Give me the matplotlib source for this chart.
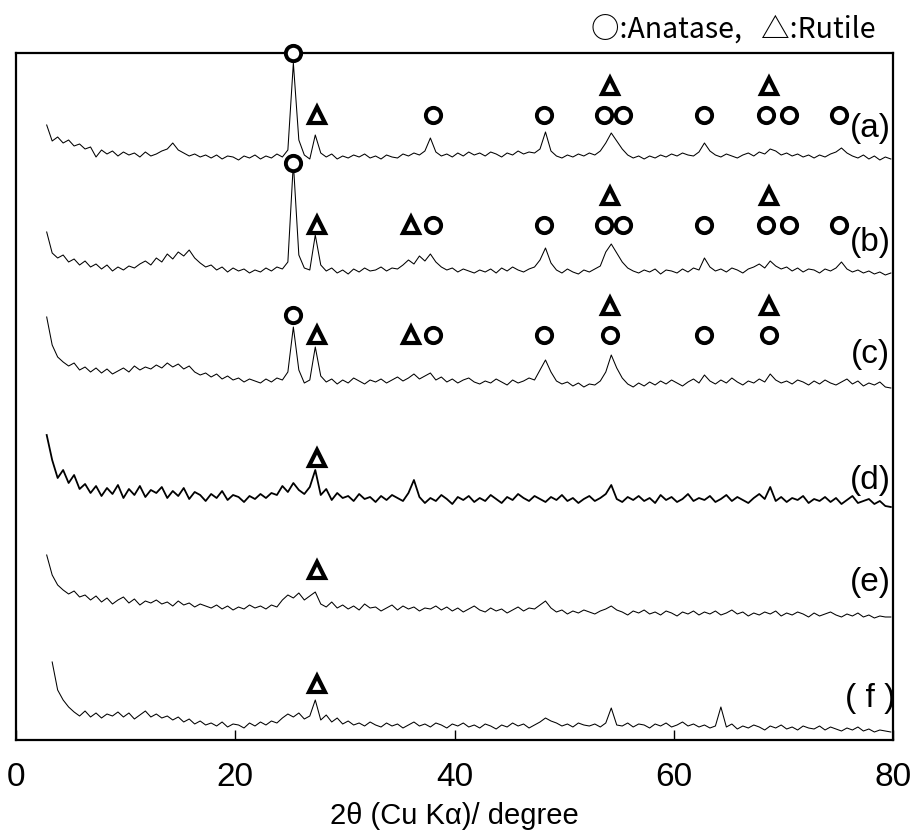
import numpy as np
import matplotlib
matplotlib.use('Agg')
import matplotlib.pyplot as plt

plt.rcParams['font.family'] = ['Liberation Sans', 'Noto Sans CJK JP', 'DejaVu Sans']

# 2theta sampling (degree)
two_theta = np.arange(2.8, 80.0, 0.5)

# intensities (arbitrary units, above each trace's own base)
int_a = [40, 24, 28, 22, 25, 19, 21, 16, 18, 8,
         15, 11, 14, 9, 13, 10, 12, 8, 13, 9,
         11, 14, 16, 22, 15, 12, 9, 11, 8, 10,
         7, 10, 6, 9, 8, 5, 9, 7, 10, 6,
         9, 7, 11, 8, 15, 102, 25, 10, 6, 30,
         12, 8, 11, 6, 9, 7, 10, 8, 11, 7,
         9, 6, 10, 8, 7, 11, 9, 12, 10, 14,
         27, 13, 9, 11, 8, 12, 9, 13, 10, 12,
         9, 13, 11, 8, 12, 10, 14, 11, 13, 12,
         16, 33, 14, 9, 7, 10, 8, 11, 9, 12,
         10, 14, 22, 32, 24, 16, 10, 7, 9, 6,
         9, 7, 10, 8, 11, 9, 12, 10, 9, 13,
         22, 14, 10, 8, 11, 9, 7, 10, 12, 9,
         13, 11, 16, 14, 10, 12, 9, 11, 8, 10,
         7, 10, 8, 11, 13, 17, 12, 9, 7, 10,
         6, 9, 5, 8, 6]
int_b = [48, 27, 22, 25, 18, 21, 15, 19, 13, 16,
         11, 15, 9, 13, 10, 14, 12, 16, 19, 15,
         22, 18, 26, 21, 28, 24, 30, 22, 17, 13,
         15, 10, 13, 8, 12, 9, 11, 7, 10, 8,
         12, 9, 13, 11, 18, 117, 25, 12, 10, 45,
         15, 9, 12, 7, 10, 6, 11, 8, 12, 9,
         10, 13, 9, 12, 11, 15, 20, 16, 24, 19,
         26, 18, 13, 10, 12, 8, 11, 9, 7, 10,
         8, 11, 7, 12, 9, 13, 10, 8, 11, 13,
         20, 32, 17, 10, 7, 11, 8, 6, 10, 8,
         11, 14, 28, 36, 27, 18, 12, 9, 7, 10,
         8, 11, 6, 10, 9, 7, 11, 8, 12, 10,
         22, 13, 9, 11, 8, 12, 10, 7, 11, 13,
         16, 12, 19, 14, 11, 13, 9, 12, 8, 11,
         10, 7, 11, 9, 12, 18, 11, 8, 10, 7,
         9, 6, 8, 5, 7]
int_c = [75, 47, 35, 30, 26, 29, 22, 25, 20, 24,
         19, 23, 18, 21, 24, 20, 26, 22, 25, 23,
         27, 24, 29, 25, 28, 23, 26, 20, 17, 19,
         15, 18, 13, 16, 12, 14, 10, 13, 11, 9,
         13, 10, 14, 12, 20, 65, 22, 9, 12, 45,
         16, 10, 13, 8, 12, 9, 14, 11, 8, 12,
         10, 13, 9, 12, 15, 11, 14, 18, 13, 16,
         19, 12, 15, 10, 13, 9, 12, 14, 10, 8,
         11, 9, 13, 10, 7, 12, 9, 11, 14, 12,
         22, 32, 20, 11, 8, 10, 6, 9, 5, 8,
         7, 11, 20, 37, 24, 14, 8, 5, 9, 6,
         10, 7, 11, 8, 12, 9, 6, 10, 13, 9,
         17, 11, 8, 12, 9, 14, 10, 7, 11, 9,
         13, 10, 18, 12, 9, 11, 8, 12, 10, 7,
         11, 8, 12, 9, 7, 10, 13, 8, 11, 6,
         9, 7, 10, 5, 4]
int_d = [75, 50, 32, 40, 27, 35, 21, 26, 17, 24,
         14, 22, 16, 25, 12, 21, 15, 24, 13, 20,
         17, 23, 12, 19, 14, 22, 11, 18, 15, 9,
         16, 12, 19, 10, 15, 13, 8, 14, 11, 16,
         12, 17, 15, 24, 18, 27, 20, 16, 23, 40,
         15, 21, 10, 17, 12, 14, 9, 16, 11, 13,
         8, 14, 10, 15, 12, 9, 17, 30, 13, 7,
         12, 9, 15, 11, 6, 13, 10, 14, 8, 12,
         9, 15, 11, 7, 13, 10, 16, 12, 9, 14,
         11, 8, 13, 10, 15, 9, 12, 7, 11, 14,
         9, 12, 16, 25, 11, 8, 13, 10, 14, 9,
         12, 7, 15, 10, 13, 8, 11, 16, 9, 12,
         10, 14, 8, 11, 15, 9, 13, 10, 7, 12,
         16, 11, 23, 9, 13, 8, 12, 10, 14, 7,
         11, 9, 13, 8, 12, 6, 10, 14, 7, 9,
         11, 6, 9, 4, 3]
int_e = [67, 47, 37, 32, 28, 31, 25, 27, 22, 26,
         20, 24, 18, 22, 25, 19, 23, 17, 21, 19,
         22, 18, 20, 16, 21, 17, 19, 15, 18, 16,
         14, 17, 13, 16, 12, 15, 13, 17, 14, 16,
         13, 17, 15, 22, 27, 24, 29, 22, 26, 30,
         18, 15, 20, 14, 17, 13, 16, 12, 18, 14,
         15, 11, 14, 17, 12, 16, 13, 15, 11, 14,
         13, 16, 12, 15, 11, 14, 10, 13, 16, 12,
         10, 14, 11, 13, 9, 12, 15, 11, 14, 13,
         17, 21, 14, 10, 12, 8, 11, 9, 12, 10,
         8, 11, 13, 16, 12, 10, 7, 11, 9, 12,
         8, 10, 7, 11, 9, 6, 10, 8, 11, 7,
         10, 8, 11, 7, 9, 12, 8, 10, 6, 9,
         7, 10, 8, 11, 6, 9, 7, 10, 8, 5,
         9, 6, 8, 10, 7, 5, 8, 6, 9, 5,
         7, 4, 6, 5, 5]
int_f = [np.nan, 73, 45, 35, 28, 23, 19, 24, 18, 22,
         17, 21, 19, 23, 18, 22, 16, 20, 24, 18,
         21, 17, 19, 15, 18, 13, 16, 11, 14, 10,
         12, 9, 13, 8, 11, 10, 7, 12, 9, 13,
         10, 14, 12, 17, 21, 18, 22, 16, 19, 35,
         15, 20, 13, 17, 11, 14, 10, 12, 9, 13,
         10, 8, 12, 9, 11, 7, 10, 13, 9, 11,
         8, 12, 10, 7, 11, 9, 12, 8, 10, 7,
         11, 9, 6, 10, 8, 12, 9, 11, 7, 10,
         13, 17, 14, 12, 9, 11, 8, 12, 10, 9,
         11, 8, 12, 27, 10, 9, 12, 8, 11, 10,
         7, 11, 9, 12, 8, 10, 13, 9, 11, 8,
         10, 7, 9, 28, 8, 11, 6, 9, 7, 10,
         8, 5, 9, 7, 10, 6, 8, 5, 9, 7,
         6, 9, 5, 8, 6, 4, 7, 5, 8, 4,
         6, 3, 5, 4, 3]

traces = [int_a, int_b, int_c, int_d, int_e, int_f]
labels = ['(a)', '(b)', '(c)', '(d)', '(e)', '( f )']
offsets = [575, 460, 348, 230, 118, 5]
label_y = [612, 497, 385, 260, 158, 42]

# peak assignments (2theta)
main_anatase = 25.3
anatase_ab = [38.0, 48.2, 53.6, 55.4, 62.8, 68.4, 70.5, 75.1]
anatase_c = [38.0, 48.2, 54.2, 62.8, 68.7]
rutile_a = [27.5]
rutile_bc = [27.5, 36.0]
rutile_upper = [54.2, 68.7]
rutile_low = [27.5]

fig = plt.figure(figsize=(9.17, 8.31), dpi=100)
ax = fig.add_axes([16/917, 1 - 740/831, 877/917, 687/831])

for i, vals in enumerate(traces):
    lw = 1.3 if i == 3 else 0.75
    ax.plot(two_theta, np.array(vals, dtype=float) + offsets[i], color='black', lw=lw)
    ax.text(77.9, label_y[i], labels[i], fontsize=24, ha='center', va='center')

circ = dict(marker='o', ms=11, mew=2.8, mfc='white', mec='black', ls='none',
            zorder=5, clip_on=False)
tri = dict(marker='^', ms=12, mew=3, mfc='white', mec='black', ls='none',
           zorder=5, clip_on=False)

# (a)
ax.plot([main_anatase], [687], **circ)
ax.plot(anatase_ab, [625] * len(anatase_ab), **circ)
ax.plot(rutile_a, [625] * len(rutile_a), **tri)
ax.plot(rutile_upper, [654] * len(rutile_upper), **tri)
# (b)
ax.plot([main_anatase], [577], **circ)
ax.plot(anatase_ab, [515] * len(anatase_ab), **circ)
ax.plot(rutile_bc, [515] * len(rutile_bc), **tri)
ax.plot(rutile_upper, [544] * len(rutile_upper), **tri)
# (c)
ax.plot([main_anatase], [425], **circ)
ax.plot(anatase_c, [405] * len(anatase_c), **circ)
ax.plot(rutile_bc, [405] * len(rutile_bc), **tri)
ax.plot(rutile_upper, [434] * len(rutile_upper), **tri)
# (d)-(f)
ax.plot(rutile_low, [282], **tri)
ax.plot(rutile_low, [170], **tri)
ax.plot(rutile_low, [56], **tri)

ax.set_xlim(0, 80)
ax.set_ylim(0, 687)
ax.set_xticks([0, 20, 40, 60, 80])
ax.set_yticks([])
ax.tick_params(axis='x', direction='in', length=7, width=1, labelsize=24, pad=16)
for s in ax.spines.values():
    s.set_linewidth(1.6)
ax.set_xlabel('2θ (Cu Kα)/ degree', fontsize=21, labelpad=6)

fig.text(876/917, 1 - 30/831, '○:Anatase,   △:Rutile', fontsize=20.5,
         family=['Noto Sans CJK JP', 'DejaVu Sans'], ha='right', va='center')

fig.savefig('out.png', dpi=100)
